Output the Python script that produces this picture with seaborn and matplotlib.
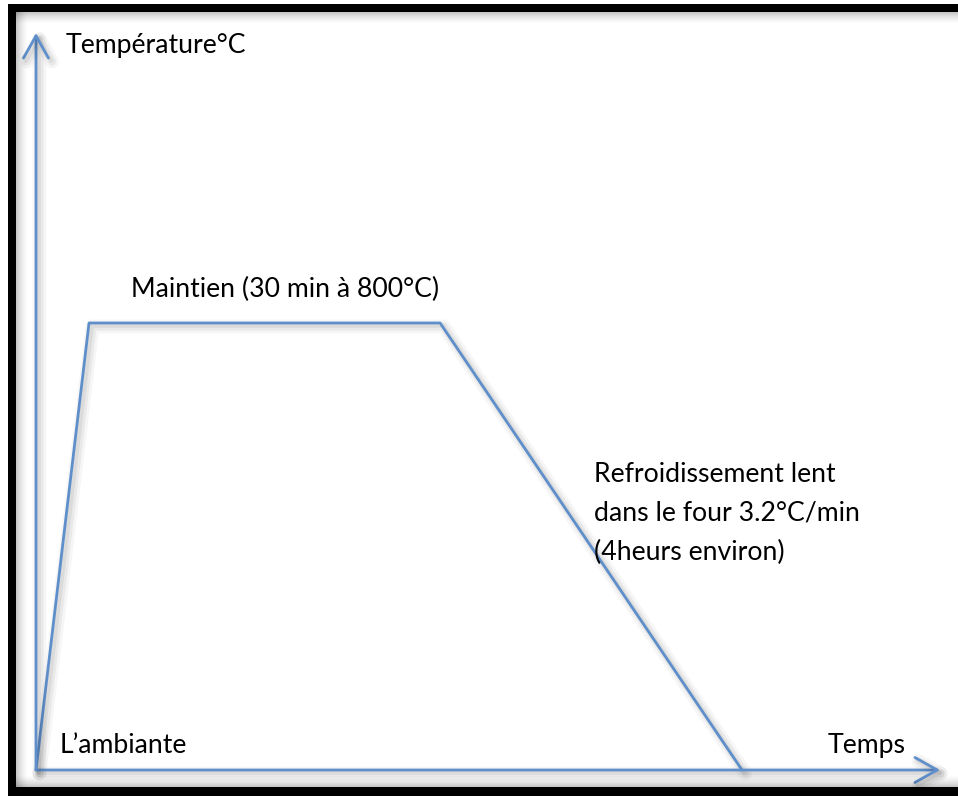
import matplotlib
matplotlib.use("Agg")
import matplotlib.pyplot as plt
import matplotlib.patheffects as pe
from matplotlib.patches import Rectangle
import seaborn as sns
import pandas as pd

# Schematic heat-treatment cycle (time in arbitrary schematic units)
stage_time = [0.0, 1.51, 11.51, 20.11]
stage_temp = [20, 800, 800, 20]
time_axis_end = 25.75
temp_axis_end = 1306

label_y = "Température°C"
label_x = "Temps"
label_start = "L\u2019ambiante"
label_hold = "Maintien (30 min à 800°C)"
label_cool = ["Refroidissement lent", "dans le four 3.2°C/min", "(4heurs environ)"]

W, H = 958, 796
BLUE = "#5F8FCB"

sns.set_theme(style="white")
plt.rcParams["font.family"] = ["Lato", "DejaVu Sans"]

fig = plt.figure(figsize=(W / 100, H / 100), dpi=100)
fig.patch.set_facecolor("white")


def fx(x):
    return x / W


def fy(y):
    return 1 - y / H


def band(x0, y0, x1, y1, color="black", alpha=1.0):
    fig.patches.append(Rectangle((fx(x0), fy(y1)), fx(x1) - fx(x0), fy(y0) - fy(y1),
                                 transform=fig.transFigure, facecolor=color,
                                 edgecolor="none", alpha=alpha, zorder=0))


# black frame with soft inner shadow
band(8, 4, W, 12)
band(8, 4, 16, H)
band(8, 787, W, H)
for i in range(12):
    a = 0.22 * (1 - i / 12) ** 1.6
    band(16, 12 + i, W, 13 + i, "black", a)
    band(16 + i, 12, 17 + i, 787, "black", a)
    band(16, 786 - i, W, 787 - i, "black", a)

ax = fig.add_axes([fx(36), fy(770), fx(940) - fx(36), fy(33) - fy(770)])
ax.set_xlim(0, time_axis_end)
ax.set_ylim(20, temp_axis_end)
ax.set_facecolor("none")
for s in ax.spines.values():
    s.set_visible(False)
ax.set_xticks([])
ax.set_yticks([])

# soft drop shadow beneath the blue strokes
shadow = [pe.SimpleLineShadow(offset=(2.5, -2.5), shadow_color="black", alpha=0.035, linewidth=10),
          pe.SimpleLineShadow(offset=(2.5, -2.5), shadow_color="black", alpha=0.05, linewidth=6),
          pe.SimpleLineShadow(offset=(2, -2), shadow_color="black", alpha=0.06, linewidth=3),
          pe.Normal()]

df = pd.DataFrame({"temps": stage_time, "temperature": stage_temp})
sns.lineplot(data=df, x="temps", y="temperature", ax=ax, color=BLUE, lw=2.0,
             sort=False, estimator=None, clip_on=False)
ax.lines[-1].set_path_effects(shadow)
ax.set_xlabel("")
ax.set_ylabel("")

arrow = dict(arrowstyle="->, head_length=0.8, head_width=0.45", color=BLUE, lw=2.0,
             mutation_scale=20, shrinkA=0, shrinkB=0, path_effects=shadow)
ax.annotate("", xy=(1, 0), xytext=(0, 0), xycoords="axes fraction", arrowprops=arrow)
ax.annotate("", xy=(0, 1), xytext=(0, 0), xycoords="axes fraction", arrowprops=arrow)

fs = 19.2
fig.text(fx(66), fy(53), label_y, fontsize=fs, va="baseline", ha="left", color="black")
fig.text(fx(131), fy(297), label_hold, fontsize=fs, va="baseline", ha="left", color="black")
for i, line in enumerate(label_cool):
    fig.text(fx(594), fy(482 + 39 * i), line, fontsize=fs, va="baseline", ha="left", color="black")
fig.text(fx(60), fy(753), label_start, fontsize=fs, va="baseline", ha="left", color="black")
fig.text(fx(828), fy(753), label_x, fontsize=fs, va="baseline", ha="left", color="black")

fig.savefig("out.png", dpi=100, facecolor="white")
